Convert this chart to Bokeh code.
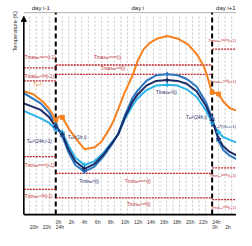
from bokeh.plotting import figure
from bokeh.models import Range1d, Arrow, NormalHead
from bokeh.core.properties import value
from bokeh.embed import file_html
from bokeh.resources import INLINE

# ---------------- data (hours: <0 = day i-1, >24 = day i+1; temperature in arbitrary units) -------------
soil_h = [-4.9, -3.5, -2.0, -1.0, -0.3, 0.0, 0.5, 1.0, 2.0, 3.0, 4.4, 6.0, 7.0, 8.0, 8.8, 9.6, 10.6, 11.8,
          12.6, 13.5, 14.5, 15.5, 17.1, 18.8, 20.3, 21.7, 22.7, 23.3, 23.7, 24.0, 25.0, 25.7, 26.7, 27.8]
soil_T = [132, 129, 121, 113, 105, 101, 105, 104, 92, 82, 70, 72, 78, 89, 99, 113, 131, 149,
          165, 177, 184, 188, 191, 188, 182, 171, 159, 147, 137, 131, 129, 121, 114, 111]

air_h = [-4.9, -2.3, -1.0, 0.0, 1.0, 2.0, 3.0, 4.4, 5.9, 7.3, 8.8, 9.6, 10.6, 11.8, 12.5, 13.9, 15.4,
         17.1, 18.7, 20.1, 21.6, 23.0, 23.9, 24.0, 25.0, 25.7, 26.7, 27.8]
air_mid_T = [130, 119, 109, 96, 84, 66, 53, 46, 51, 62, 77, 87, 106, 125, 132, 143, 149,
             150, 149, 145, 137, 121, 105, 103, 79, 69, 63, 59]
air_navy_T = [119, 112, 104, 94, 86, 69, 57, 49, 54, 64, 78, 86, 104, 121, 128, 138, 143,
              144, 143, 140, 132, 117, 103, 101, 81, 73, 67, 63]
air_light_T = [111, 103, 98, 91, 88, 73, 61, 53, 57, 66, 79, 86, 102, 117, 124, 133, 138,
               139, 138, 134, 126, 112, 100, 98, 88, 83, 80, 77]

air_marker_h = [0.0, 1.0, 4.4, 17.1, 24.0, 25.0]
soil_marker_h = [0.0, 1.0, 24.0, 25.0]

# threshold lines: (start hour, end hour, temperature)
tmax_warm = [(-4.9, 0, 157), (0, 24, 160), (24, 28, 177)]
tmax_cold = [(-4.9, 0, 143), (0, 24, 150)]
tmin_warm = [(-4.9, 0, 62), (0, 24, 44), (24, 28, 50)]
tmin_cold = [(-4.9, 0, 27), (0, 24, 18), (24, 28, 16)]

upper_ticks = [0, 2, 4, 6, 8, 10, 12, 14, 16, 18, 20, 22, 24]
upper_labels = ["0h", "2h", "4h", "6h", "8h", "10h", "12h", "14h", "16h", "18h", "20h", "22h", "24h"]
lower_ticks = [-4, -2, 0, 24, 26]
lower_labels = ["20h", "22h", "24h", "0h", "2h"]

day_labels = ["day i-1", "day i", "day i+1"]

# ---------------- styling ----------------
ORANGE = "#f7801f"
MID = "#2a78c2"
NAVY = "#1c2b66"
LIGHT = "#2cb3ea"
RED = "#c0282d"
FONT = "Liberation Sans"

X0, X1 = -8.48, 27.74
Y0, Y1 = -17, 229
AX_H = -4.9

p = figure(width=236, height=230, x_range=Range1d(X0, X1), y_range=Range1d(Y0, Y1),
           output_backend="svg", toolbar_location=None,
           x_axis_location=None, y_axis_location=None, min_border=0)
p.grid.visible = False
p.outline_line_color = None
p.background_fill_color = "white"

# hourly gray dashed grid
for hh in range(-4, 28):
    if hh in (0, 24):
        continue
    p.line([hh, hh], [0, 213], line_color="#b5b5b5", line_width=0.8, line_dash="2 2")

# top border line
p.line([AX_H, 28], [216, 216], line_color="#9a9a9a", line_width=0.8)

# day separators
for hh in (0, 24):
    p.line([hh, hh], [0, 216], line_color="black", line_width=2, line_dash="5 3")

# threshold lines
for group in (tmax_warm, tmax_cold, tmin_warm, tmin_cold):
    for (a, b, t) in group:
        p.line([a, b], [t, t], line_color=RED, line_width=1.3, line_dash="2 1")

# curves
p.line(soil_h, soil_T, line_color=ORANGE, line_width=2)
p.line(air_h, air_light_T, line_color=LIGHT, line_width=2)
p.line(air_h, air_mid_T, line_color=MID, line_width=2)
p.line(air_h, air_navy_T, line_color=NAVY, line_width=2)

def pick(hs, h_list, t_list):
    return [t_list[h_list.index(h)] for h in hs]

p.scatter(soil_marker_h, pick(soil_marker_h, soil_h, soil_T), marker="square", size=4,
          fill_color=ORANGE, line_color=ORANGE)
for col, arr in ((LIGHT, air_light_T), (MID, air_mid_T), (NAVY, air_navy_T)):
    p.scatter(air_marker_h, pick(air_marker_h, air_h, arr), marker="cross", size=5,
              line_color=col, line_width=1.5)

# axes (drawn)
p.line([AX_H, 28], [0, 0], line_color="black", line_width=1.6)
p.add_layout(Arrow(end=NormalHead(size=5, fill_color="black", line_color="black"),
                   x_start=AX_H, y_start=0, x_end=AX_H, y_end=212,
                   line_color="black", line_width=1.6))

# text helpers
def txt(xs, ys, texts, color, size, align="left", angle=0):
    p.text(xs, ys, text=texts, text_color=color, text_font=value(FONT),
           text_font_size=size, text_align=align, text_baseline="middle", angle=angle)

txt(upper_ticks, [-8] * len(upper_ticks), upper_labels, "#333333", "5px")
txt(lower_ticks, [-13] * len(lower_ticks), lower_labels, "#333333", "5px")
txt([-2.3, 12.6], [221, 221], day_labels[:2], "#222222", "6px", align="center")
txt([27.6], [221], day_labels[2:], "#222222", "6px", align="right")
txt([-6.3], [196], ["Temperature (K)"], "#222222", "5.6px", align="center", angle=1.5708)

red_texts = ["Tmaxₐᵢᵣʷᵃʳᵐ(i-1)", "Tmaxₐᵢᵣᶜᵒˡᵈ(i-1)", "Tminₐᵢᵣʷᵃʳᵐ(i-1)", "Tminₐᵢᵣᶜᵒˡᵈ(i-1)",
             "Tmaxₐᵢᵣʷᵃʳᵐ(i)", "Tmaxₐᵢᵣᶜᵒˡᵈ(i)", "Tminₐᵢᵣʷᵃʳᵐ(i)", "Tminₐᵢᵣᶜᵒˡᵈ(i)"]
red_x = [-4.74, -4.74, -4.74, -4.74, 5.9, 6.9, 10.64, 10.92]
red_y = [168, 148, 53, 19, 168, 156, 35, 11]
txt(red_x, red_y, red_texts, RED, "4.6px")

red_next = ["Tmaxₐᵢᵣʷᵃʳᵐ(i+1)", "Tmaxₐᵢᵣᶜᵒˡᵈ(i+1)", "Tminₐᵢᵣʷᵃʳᵐ(i+1)", "Tminₐᵢᵣᶜᵒˡᵈ(i+1)"]
txt([27.67] * 4, [186, 142, 42, 8], red_next, RED, "4px", align="right")

navy_texts = ["Tₐᵢᵣʰ(24h,i-1)", "Tₐᵢᵣʰ(1h,i)", "Tmaxₐᵢᵣʰ(i)", "Tminₐᵢᵣʰ(i)", "Tₐᵢᵣʰ(24h,i)"]
navy_x = [-4.46, 1.87, 15.38, 3.59, 19.98]
navy_y = [78, 83, 131, 35, 104]
txt(navy_x, navy_y, navy_texts, NAVY, "4.6px")
txt([27.67], [94], ["Tₐᵢᵣʰ(1h,i+1)"], NAVY, "4.3px", align="right")
txt([-3.45], [139], ["Tₛₒᵢₗʰ"], ORANGE, "4.6px")

open("out.html", "w").write(file_html(p, INLINE))
